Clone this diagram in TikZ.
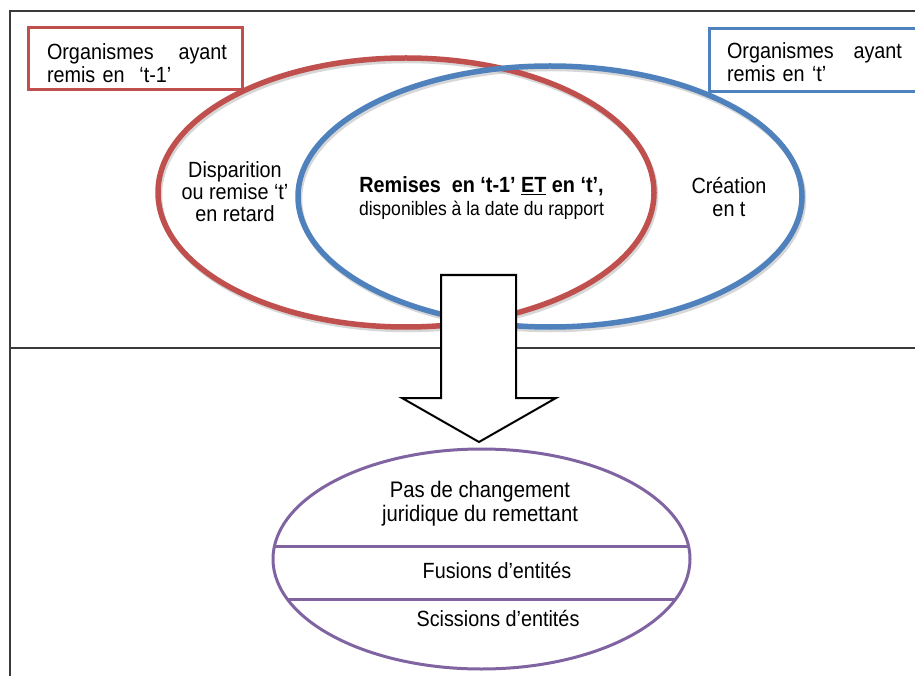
\documentclass[tikz,border=0pt]{standalone}
\usepackage{fontspec}
\setmainfont[FakeStretch=0.9]{Liberation Sans}
\usetikzlibrary{shapes.geometric}
\definecolor{vred}{HTML}{C0504D}
\definecolor{vblue}{HTML}{4F81BD}
\definecolor{vpurple}{HTML}{8064A2}
\definecolor{framegray}{HTML}{3A3A3A}
\begin{document}
\begin{tikzpicture}[x=1pt,y=-1pt,
  frameline/.style={draw=framegray,line width=1.5pt},
  vennell/.style={ellipse,draw,line width=5.5pt,inner sep=0pt},
  shadowell/.style={ellipse,draw=black!35,opacity=0.45,line width=5.5pt,inner sep=0pt},
  legbox/.style={draw,line width=3pt,inner sep=0pt},
  lbl/.style={inner sep=0pt,font=\fontsize{22}{23}\selectfont,align=center},
  arrowshape/.style={draw=black,fill=white,line width=2pt,line join=miter}]
\useasboundingbox (0,0) rectangle (915,676);
% frame
\coordinate (ftl) at (10,11);
\coordinate (ftr) at (917,11);
\coordinate (fbl) at (10,678);
\coordinate (fml) at (10,348);
\coordinate (fmr) at (917,348);
\draw[frameline] (ftr) -- (ftl) -- (fbl);
\draw[frameline] (fml) -- (fmr);
% legend boxes
\node[legbox,draw=vred,minimum width=214pt,minimum height=62pt] (redbox) at (135,59) {};
\node[legbox,draw=vblue,minimum width=216pt,minimum height=63pt] (bluebox) at (817,60.5) {};
\node[lbl,text width=180pt,align=left] (redtxt) at (137,63) {\hbox to 180pt{Organismes\hfill ayant}\\remis en\ \ ‘t-1’};
\node[lbl,text width=175pt,align=left] (bluetxt) at (814.5,62) {\hbox to 175pt{Organismes\hfill ayant}\\remis en ‘t’};
% venn shadows
\node[shadowell,minimum width=496pt,minimum height=269pt] (redsh) at (407.5,195) {};
\node[shadowell,minimum width=504pt,minimum height=261pt] (bluesh) at (551.5,199) {};
% venn ellipses
\node[vennell,draw=vred,minimum width=496pt,minimum height=269pt] (redell) at (406,192.5) {};
\node[vennell,draw=vblue,minimum width=504pt,minimum height=261pt] (blueell) at (550,196.5) {};
% venn labels
\node[lbl,font=\fontsize{22}{22}\selectfont] (disp) at (235,192) {Disparition\\ou remise ‘t’\\en retard};
\node[lbl] (both) at (481.5,198) {\textbf{Remises\ \ en\ ‘t-1’\ \underline{ET}\ en\ ‘t’,}\\{\fontsize{19.5}{22}\selectfont disponibles à la date du rapport}};
\node[lbl] (crea) at (729,197) {Création\\en t};
% big arrow
\coordinate (a1) at (441,275);
\coordinate (a2) at (516,275);
\coordinate (a3) at (516,398);
\coordinate (a4) at (556,398);
\coordinate (a5) at (479,442);
\coordinate (a6) at (402,398);
\coordinate (a7) at (441,398);
\draw[arrowshape] (a1) -- (a2) -- (a3) -- (a4) -- (a5) -- (a6) -- (a7) -- cycle;
% purple ellipse
\node[ellipse,draw=vpurple,line width=3pt,inner sep=0pt,minimum width=417pt,minimum height=220pt] (pell) at (481.5,559) {};
\coordinate (l1a) at (274.5,546);
\coordinate (l1b) at (688.5,546);
\coordinate (l2a) at (287.3,599);
\coordinate (l2b) at (675.7,599);
\draw[vpurple,line width=3pt] (l1a) -- (l1b);
\draw[vpurple,line width=3pt] (l2a) -- (l2b);
\node[lbl,font=\fontsize{22.5}{24}\selectfont] (pas) at (480,503.3) {Pas de changement\\juridique du remettant};
\node[lbl,anchor=base,font=\fontsize{22}{24}\selectfont] (fus) at (497,578) {Fusions d’entités};
\node[lbl,anchor=base,font=\fontsize{22}{24}\selectfont] (sci) at (498,626) {Scissions d’entités};
\end{tikzpicture}
\end{document}
